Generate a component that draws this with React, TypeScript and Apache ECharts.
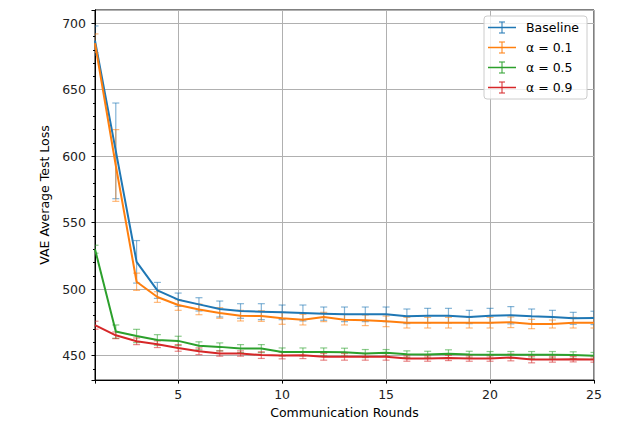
import React, { useEffect, useRef } from 'react';
import * as echarts from 'echarts';

const rounds = [1, 2, 3, 4, 5, 6, 7, 8, 9, 10, 11, 12, 13, 14, 15, 16, 17, 18, 19, 20, 21, 22, 23, 24, 25];

const seriesNames = ['Baseline', 'α = 0.1', 'α = 0.5', 'α = 0.9'];

const baseline = [687, 604, 520.5, 499, 492, 488.5, 485, 483.5, 483, 482.5, 482, 481.5, 481, 481, 481, 479.5, 480, 480, 479, 480, 480.3, 479.5, 479, 478, 478.3];
const baselineErr = [11, 36, 16, 6, 5, 5, 6, 5.5, 6, 5.5, 6, 5, 5.5, 5.5, 5.5, 5.5, 5.5, 5.5, 5, 5.5, 6.5, 5.5, 5, 4.5, 5];

const alpha01 = [685, 593, 505.5, 494, 488, 484.7, 482, 480, 479.7, 478, 477, 479, 477, 476.5, 475.7, 474.7, 474.7, 474.7, 474.7, 474.7, 475, 473.7, 473.7, 474.7, 474.7];
const alpha01Err = [7, 27, 6.5, 4, 4, 4, 4, 4, 4, 4.5, 4, 3.5, 4, 4, 4, 4, 4, 4, 4, 4, 4, 3.5, 3, 4, 4];

const alpha05 = [530, 468, 464.7, 461.7, 461, 457.3, 456.5, 455.2, 455.2, 452.7, 452.7, 452.7, 452.5, 451.5, 452, 451, 450.7, 451.3, 450.7, 450.5, 450.5, 450.5, 450.5, 450.3, 449.8];
const alpha05Err = [3, 5, 5, 4, 3.5, 3, 3, 3, 3, 3, 3, 3, 3, 3, 2.5, 2.5, 2.5, 3, 2.5, 2.5, 2.5, 2.5, 2.5, 2.5, 2.5];

const alpha09 = [472.8, 465.2, 460.7, 458.5, 455.7, 453.2, 451.5, 451.5, 450.3, 450, 450.2, 449, 449, 449, 449, 447.7, 447.7, 448.2, 447.7, 447.7, 448.5, 447, 447, 447.2, 447];
const alpha09Err = [3, 2.5, 2.5, 2.5, 2.5, 2.5, 2, 2, 2.5, 2.5, 2.5, 2.5, 2.5, 2.5, 2.5, 2, 2, 2, 2, 2, 2.5, 2.5, 2, 2, 2];

const colors = ['#1f77b4', '#ff7f0e', '#2ca02c', '#d62728'];
const errColors = ['rgba(31,119,180,0.55)', 'rgba(255,127,14,0.55)', 'rgba(44,160,44,0.55)', 'rgba(214,39,40,0.55)'];

const FONT = 'DejaVu Sans';
const FS = 12.5;
const Y_MIN = 431.5;
const Y_MAX = 710;

export default function App() {
  const ref = useRef<HTMLDivElement>(null);
  useEffect(() => {
    const chart = echarts.init(ref.current!, null, { renderer: 'svg' });
    const values = [baseline, alpha01, alpha05, alpha09];
    const errs = [baselineErr, alpha01Err, alpha05Err, alpha09Err];

    const series: any[] = [];
    values.forEach((vals, k) => {
      series.push({
        type: 'custom',
        name: seriesNames[k] + ' err',
        xAxisIndex: 0,
        yAxisIndex: 1,
        clip: true,
        z: 2,
        encode: { x: 0, y: [1, 2] },
        data: rounds.map((r, i) => [r, vals[i] - errs[k][i], vals[i] + errs[k][i]]),
        renderItem: (params: any, api: any) => {
          const x = api.value(0);
          const p1 = api.coord([x, api.value(1)]);
          const p2 = api.coord([x, api.value(2)]);
          const c = 3.5;
          const st = { stroke: errColors[k], lineWidth: 1.2 };
          return {
            type: 'group',
            children: [
              { type: 'line', shape: { x1: p1[0], y1: p1[1], x2: p2[0], y2: p2[1] }, style: st },
              { type: 'line', shape: { x1: p1[0] - c, y1: p1[1], x2: p1[0] + c, y2: p1[1] }, style: st },
              { type: 'line', shape: { x1: p2[0] - c, y1: p2[1], x2: p2[0] + c, y2: p2[1] }, style: st },
            ],
          };
        },
      });
    });
    values.forEach((vals, k) => {
      series.push({
        type: 'line',
        name: seriesNames[k],
        xAxisIndex: 0,
        yAxisIndex: 1,
        z: 3 + k,
        symbol: 'none',
        showSymbol: false,
        lineStyle: { width: 2, color: colors[k] },
        itemStyle: { color: colors[k] },
        data: rounds.map((r, i) => [r, vals[i]]),
      });
    });

    const legendIcon = 'path://M0,5.2h28v1.6h-28z M13.5,0h1v12h-1z M11,0h6v1h-6z M11,11h6v1h-6z';

    chart.setOption({
      animation: false,
      backgroundColor: '#fff',
      textStyle: { fontFamily: FONT },
      grid: { left: 95, right: 31, top: 10, bottom: 42.5, containLabel: false, show: true, borderColor: '#000', borderWidth: 1, backgroundColor: 'transparent' },
      legend: {
        data: seriesNames.map((n) => ({ name: n, icon: legendIcon })),
        orient: 'vertical',
        right: 38,
        top: 16,
        itemWidth: 28,
        itemHeight: 12,
        itemGap: 7,
        padding: [5, 8, 5, 4],
        backgroundColor: 'rgba(255,255,255,0.8)',
        borderColor: '#cccccc',
        borderWidth: 1,
        borderRadius: 3,
        textStyle: { fontFamily: FONT, fontSize: FS, color: '#000', padding: [0, 0, 0, 5] },
      },
      xAxis: {
        type: 'value',
        min: 1,
        max: 25,
        minInterval: 5,
        maxInterval: 5,
        splitNumber: 5,
        name: 'Communication Rounds',
        nameLocation: 'middle',
        nameGap: 25,
        nameTextStyle: { fontFamily: FONT, fontSize: FS, color: '#000' },
        axisLine: { show: true, lineStyle: { color: '#000', width: 1 } },
        axisTick: { show: true, length: 3.5, lineStyle: { color: '#000' } },
        axisLabel: {
          margin: 8,
          fontFamily: FONT,
          fontSize: FS,
          color: '#222',
          formatter: (v: number) => (v % 5 === 0 ? String(v) : ''),
        },
        splitLine: { show: true, lineStyle: { color: '#b0b0b0', width: 1 } },
      },
      yAxis: [
        {
          type: 'value',
          min: Y_MIN,
          max: Y_MAX,
          minInterval: 10,
          maxInterval: 10,
          splitNumber: 28,
          position: 'left',
          axisLine: { show: true, lineStyle: { color: '#000', width: 1 } },
          axisTick: { show: true, length: 2, lineStyle: { color: '#000' } },
          axisLabel: { show: false },
          splitLine: { show: false },
        },
        {
          type: 'value',
          min: Y_MIN,
          max: Y_MAX,
          minInterval: 50,
          maxInterval: 50,
          splitNumber: 5,
          position: 'left',
          name: 'VAE Average Test Loss',
          nameLocation: 'middle',
          nameGap: 37,
          nameTextStyle: { fontFamily: FONT, fontSize: FS, color: '#000' },
          axisLine: { show: true, lineStyle: { color: '#000', width: 1 } },
          axisTick: { show: true, length: 3.5, lineStyle: { color: '#000' } },
          axisLabel: {
            margin: 9,
            fontFamily: FONT,
            fontSize: FS,
            color: '#222',
            formatter: (v: number) => (v % 50 === 0 ? String(v) : ''),
          },
          splitLine: { show: true, lineStyle: { color: '#b0b0b0', width: 1 } },
        },
      ],
      series,
    });
    return () => chart.dispose();
  }, []);
  return <div ref={ref} style={{ width: 625, height: 424, position: 'absolute', left: 0, top: 0 }} />;
}
